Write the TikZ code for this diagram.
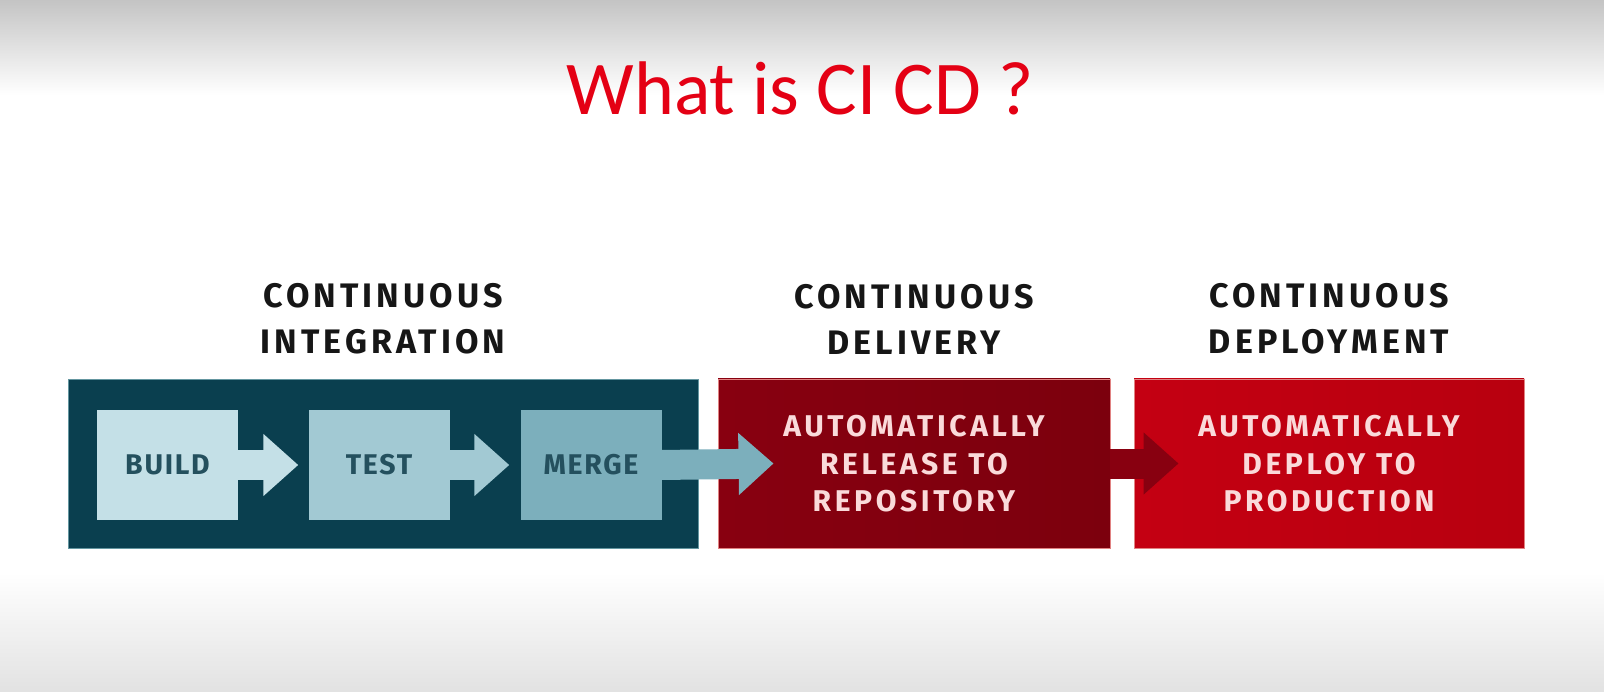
\documentclass[tikz,border=0pt]{standalone}
\usepackage{fontspec}
\setmainfont{Fira Sans}
\newfontfamily\titlefont{Carlito}
\newfontfamily\capsfont[LetterSpace=12]{Fira Sans}
\newfontfamily\stepfont[LetterSpace=6]{Fira Sans}
\usetikzlibrary{arrows.meta}

% palette
\definecolor{bgtop}{RGB}{196,196,196}
\definecolor{bgbottom}{RGB}{226,226,226}
\definecolor{titlered}{RGB}{228,0,20}
\definecolor{headink}{RGB}{22,22,22}
\definecolor{cibg}{RGB}{10,63,79}
\definecolor{ciedge}{RGB}{100,150,160}
\definecolor{buildcol}{RGB}{196,224,231}
\definecolor{testcol}{RGB}{162,201,211}
\definecolor{mergecol}{RGB}{124,175,188}
\definecolor{stageink}{RGB}{36,80,94}
\definecolor{cdbg}{RGB}{136,0,16}
\definecolor{cdbgdark}{RGB}{124,0,13}
\definecolor{cdepbg}{RGB}{196,0,18}
\definecolor{cdepbgdark}{RGB}{184,0,15}
\definecolor{rededge}{RGB}{225,130,130}
\definecolor{redink}{RGB}{250,218,218}

\tikzset{
  panel/.style={rectangle, minimum height=169pt, inner sep=0pt, line width=0.9pt},
  stage/.style={rectangle, minimum width=141pt, minimum height=110pt, inner sep=0pt,
    text=stageink, font=\stepfont\bfseries\fontsize{28.5}{34}\selectfont},
  heading/.style={align=center, text=headink, inner sep=0pt,
    font=\capsfont\bfseries\fontsize{34}{46}\selectfont},
  redtext/.style={align=center, text=redink, inner sep=0pt,
    font=\capsfont\bfseries\fontsize{30}{37.5}\selectfont},
  blockarrow/.style={line width=30pt, line cap=butt,
    -{Triangle[length=35pt, width=60pt]}},
}

\begin{document}
\begin{tikzpicture}[x=1pt, y=-1pt]
\useasboundingbox (0,0) rectangle (1604,692);

% backdrop with soft grey bands at top and bottom
\fill[white] (0,0) rectangle (1604,692);
\shade[top color=bgtop, bottom color=white] (0,0) rectangle (1604,95);
\shade[top color=white, bottom color=bgbottom] (0,572) rectangle (1604,692);

% title
\node[font=\titlefont\fontsize{76}{90}\selectfont, text=titlered, anchor=base, inner sep=0pt]
  (title) at (800,115) {What is CI CD ?};

% the three phases
\node[panel, fill=cibg, draw=ciedge, minimum width=630pt] (ci) at (383,463.5) {};
\shade[left color=cdbg, right color=cdbgdark] (718,379) rectangle (1110,548);
\node[panel, draw=rededge, minimum width=392pt] (cd) at (914,463.5) {};
\shade[left color=cdepbg, right color=cdepbgdark] (1134,379) rectangle (1524,548);
\node[panel, draw=rededge, minimum width=390pt] (cdep) at (1329,463.5) {};

% phase headings
\node[heading] (cihead) at (383,319) {CONTINUOUS\\INTEGRATION};
\node[heading] (cdhead) at (914,319) {CONTINUOUS\\DELIVERY};
\node[heading] (cdephead) at (1329,319) {CONTINUOUS\\DEPLOYMENT};

% integration steps
\node[stage, fill=buildcol] (build) at (167.5,465) {BUILD};
\node[stage, fill=testcol] (test) at (379,465) {TEST};
\node[stage, fill=mergecol] (merge) at (591,465) {MERGE};

% flow arrows
\draw[blockarrow, buildcol] (build.east) -- ([xshift=-10pt]test.west);
\draw[blockarrow, testcol] (test.east) -- ([xshift=-11pt]merge.west);
\draw[blockarrow, mergecol] (merge.east) -- ([xshift=56pt]cd.west);
\draw[blockarrow, cdbg] (cd.east) -- ([xshift=45pt]cdep.west);

% delivery / deployment descriptions
\node[redtext] (cdtext) at (914,464) {AUTOMATICALLY\\RELEASE TO\\REPOSITORY};
\node[redtext] (cdeptext) at (1329,464) {AUTOMATICALLY\\DEPLOY TO\\PRODUCTION};
\end{tikzpicture}
\end{document}
